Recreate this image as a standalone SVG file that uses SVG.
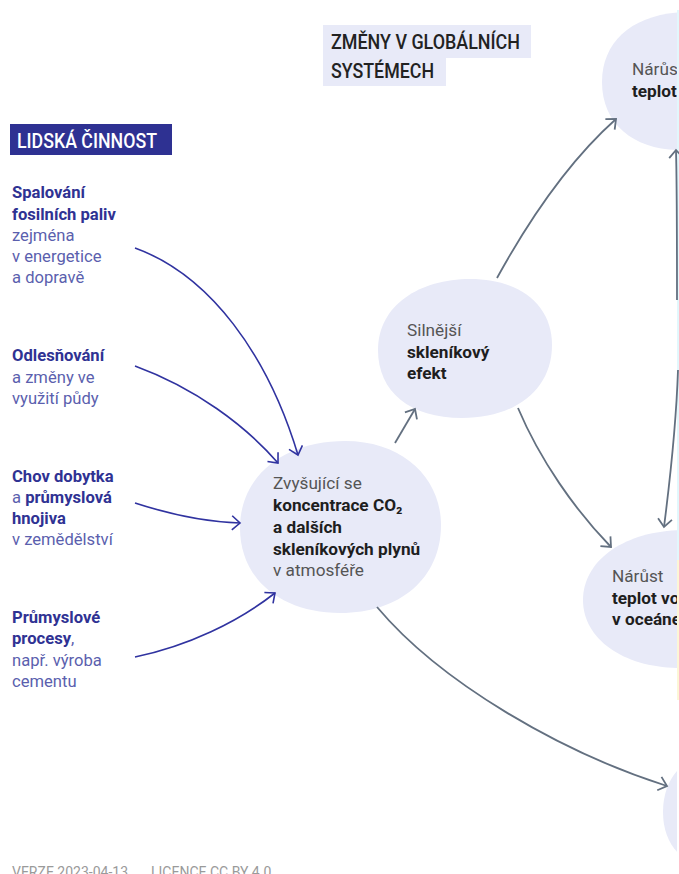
<svg xmlns="http://www.w3.org/2000/svg" width="679" height="874" viewBox="0 0 679 874">
<style>
.t{font-family:Roboto,"Liberation Sans",sans-serif;font-size:16.6px}
.b{font-family:Roboto,"Liberation Sans",sans-serif;font-size:17.2px}
.hb{fill:#2f3293;font-weight:bold}
.hr{fill:#5b5fae}
.g{fill:#555}
.k{fill:#1e1e1e;font-weight:bold}
.hd{font-family:Roboto,"Liberation Sans",sans-serif;font-size:21px;font-weight:500}
.bl{fill:#e8eaf8}
.ca{fill:none;stroke:#3033a0;stroke-width:1.6}
.cg{fill:none;stroke:#637080;stroke-width:1.8}
</style>
<defs>
<marker id="ab" markerUnits="userSpaceOnUse" markerWidth="16" markerHeight="16" refX="9" refY="8" orient="auto">
<path d="M1,1 L9,8 L1,15" fill="none" stroke="#3033a0" stroke-width="1.6"/>
</marker>
<marker id="ag" markerUnits="userSpaceOnUse" markerWidth="16" markerHeight="16" refX="9" refY="8" orient="auto">
<path d="M1,1 L9,8 L1,15" fill="none" stroke="#637080" stroke-width="1.8"/>
</marker>
<clipPath id="cp"><rect x="0" y="0" width="677" height="874"/></clipPath>
</defs>
<rect width="679" height="874" fill="#fff"/>
<line x1="678" y1="10" x2="678" y2="560" stroke="#d8f4fb" stroke-width="1.5"/>
<line x1="678" y1="560" x2="678" y2="700" stroke="#fbf3c8" stroke-width="1.5"/>

<g id="header-left">
<rect x="10" y="124" width="162" height="31" fill="#2e3192"/>
<text x="17" y="148" class="hd" fill="#fff" textLength="140" lengthAdjust="spacingAndGlyphs">LIDSKÁ ČINNOST</text>
</g>
<g id="header-right">
<rect x="323" y="25" width="208" height="33" fill="#e8eaf8"/>
<rect x="323" y="57" width="123" height="29" fill="#e8eaf8"/>
<text x="331" y="49" class="hd" fill="#222" textLength="189" lengthAdjust="spacingAndGlyphs">ZMĚNY V GLOBÁLNÍCH</text>
<text x="331" y="78" class="hd" fill="#222" textLength="103" lengthAdjust="spacingAndGlyphs">SYSTÉMECH</text>
</g>

<g id="src-fossil" class="t">
<text x="12" y="198" class="hb">Spalování</text>
<text x="12" y="220" class="hb">fosilních paliv</text>
<text x="12" y="241" class="hr">zejména</text>
<text x="12" y="262" class="hr">v energetice</text>
<text x="12" y="283" class="hr">a dopravě</text>
</g>
<g id="src-forest" class="t">
<text x="12" y="361" class="hb">Odlesňování</text>
<text x="12" y="383" class="hr">a změny ve</text>
<text x="12" y="404" class="hr">využití půdy</text>
</g>
<g id="src-agri" class="t">
<text x="12" y="482" class="hb">Chov dobytka</text>
<text x="12" y="503" class="hr">a <tspan class="hb">průmyslová</tspan></text>
<text x="12" y="524" class="hb">hnojiva</text>
<text x="12" y="545" class="hr">v zemědělství</text>
</g>
<g id="src-industry" class="t">
<text x="12" y="623" class="hb">Průmyslové</text>
<text x="12" y="644" class="hr"><tspan class="hb">procesy</tspan>,</text>
<text x="12" y="666" class="hr">např. výroba</text>
<text x="12" y="687" class="hr">cementu</text>
</g>

<g id="node-concentration">
<path class="bl" d="M240,528 C240,475 285,441 345,441 C405,441 441,480 441,525 C441,578 400,613 340,613 C282,613 240,580 240,528 Z"/>
<g class="b">
<text x="273" y="489" class="g">Zvyšující se</text>
<text x="273" y="511" class="k">koncentrace CO₂</text>
<text x="273" y="533" class="k">a dalších</text>
<text x="273" y="555" class="k">skleníkových plynů</text>
<text x="273" y="576" class="g">v atmosféře</text>
</g>
</g>
<g id="node-greenhouse">
<path class="bl" d="M378,350 C378,305 420,279 470,279 C520,279 552,305 552,345 C552,390 515,418 462,418 C410,418 378,392 378,350 Z"/>
<g class="b">
<text x="407" y="336" class="g">Silnější</text>
<text x="407" y="358" class="k">skleníkový</text>
<text x="407" y="379" class="k">efekt</text>
</g>
</g>
<g id="node-air" clip-path="url(#cp)">
<path class="bl" d="M602,82 C602,40 635,12 690,12 L720,12 L720,150 L680,150 C635,150 602,125 602,82 Z"/>
<g class="b">
<text x="632" y="75" class="g">Nárůst</text>
<text x="632" y="97" class="k">teplot</text>
</g>
</g>
<g id="node-ocean" clip-path="url(#cp)">
<path class="bl" d="M583,600 C583,560 625,530 685,530 L720,530 L720,668 L680,668 C625,668 583,640 583,600 Z"/>
<g class="b">
<text x="612" y="582" class="g">Nárůst</text>
<text x="612" y="604" class="k">teplot vody</text>
<text x="612" y="625" class="k">v oceánech</text>
</g>
</g>
<g id="node-bottom" clip-path="url(#cp)">
<path class="bl" d="M663,812 C663,782 680,760 700,760 L720,760 L720,862 L700,862 C680,862 663,842 663,812 Z"/>
</g>

<g id="connectors">
<path class="ca" d="M135,248 C210,275 268,355 298,455" marker-end="url(#ab)"/>
<path class="ca" d="M135,366 C195,388 245,425 278,463" marker-end="url(#ab)"/>
<path class="ca" d="M135,503 C172,515 205,522 240,523" marker-end="url(#ab)"/>
<path class="ca" d="M135,657 C188,646 238,622 275,593" marker-end="url(#ab)"/>
<path class="cg" d="M395,443 L415,409" marker-end="url(#ag)"/>
<path class="cg" d="M497,278 C530,218 570,160 616,119" marker-end="url(#ag)"/>
<path class="cg" d="M518,408 C540,460 575,510 611,547" marker-end="url(#ag)"/>
<path class="cg" d="M377,607 C440,682 560,752 667,786" marker-end="url(#ag)"/>
<path class="cg" d="M677,300 C677,230 677,190 676,150" marker-end="url(#ag)"/>
<path class="cg" d="M678,370 C676,430 670,480 664,527" marker-end="url(#ag)"/>
</g>

<g id="footer">
<text x="12" y="877" font-family="Roboto,'Liberation Sans',sans-serif" font-size="14" fill="#9a9a9a">VERZE 2023-04-13</text>
<text x="151" y="877" font-family="Roboto,'Liberation Sans',sans-serif" font-size="14" fill="#9a9a9a">LICENCE CC BY 4.0</text>
</g>
</svg>
